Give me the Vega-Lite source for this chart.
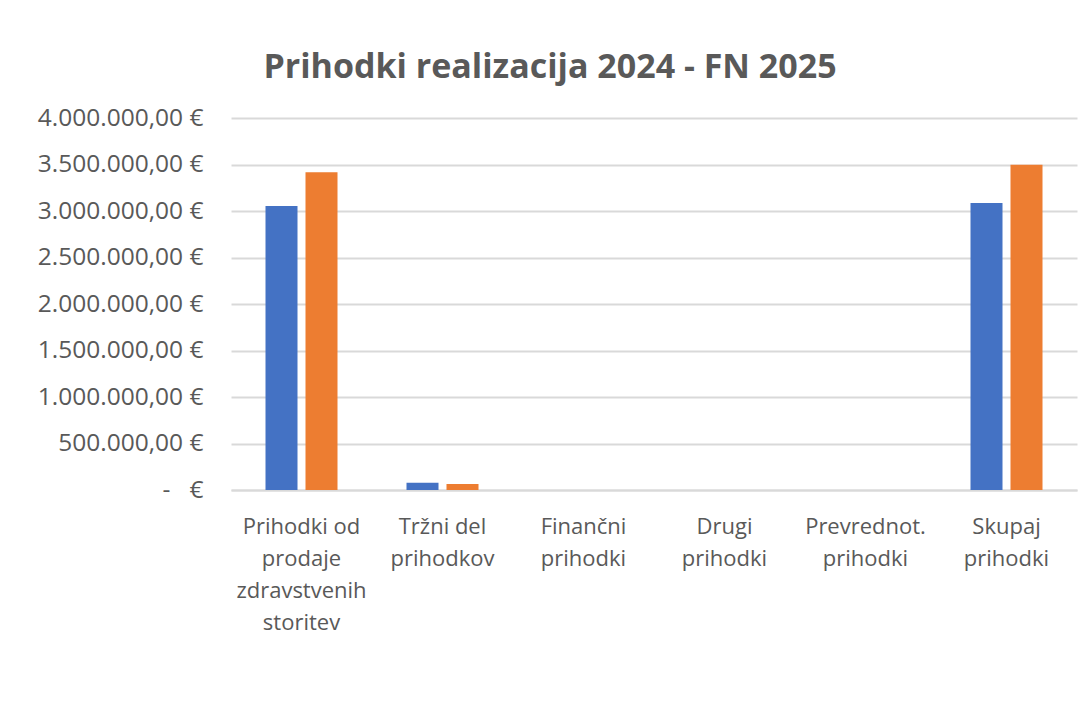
{
  "$schema": "https://vega.github.io/schema/vega-lite/v6.json",
  "autosize": "none",
  "width": 846,
  "height": 372,
  "padding": {"left": 231, "top": 118, "right": 3, "bottom": 214},
  "background": "white",
  "config": {
    "view": {"stroke": null},
    "font": "Open Sans",
    "locale": {"number": {"decimal": ",", "thousands": ".", "grouping": [3], "currency": ["", " €"]}}
  },
  "title": {
    "text": "Prihodki realizacija 2024 - FN 2025",
    "font": "Open Sans",
    "fontWeight": "bold",
    "fontSize": 34,
    "color": "#595959",
    "anchor": "middle",
    "frame": "group",
    "baseline": "alphabetic",
    "offset": 8,
    "dx": -104,
    "dy": 15
  },
  "data": {
    "values": [
      {"kategorija": "Prihodki od prodaje zdravstvenih storitev", "serija": "Realizacija 2024", "znesek": 3055000},
      {"kategorija": "Prihodki od prodaje zdravstvenih storitev", "serija": "FN 2025", "znesek": 3418000},
      {"kategorija": "Tržni del prihodkov", "serija": "Realizacija 2024", "znesek": 78000},
      {"kategorija": "Tržni del prihodkov", "serija": "FN 2025", "znesek": 64000},
      {"kategorija": "Finančni prihodki", "serija": "Realizacija 2024", "znesek": 0},
      {"kategorija": "Finančni prihodki", "serija": "FN 2025", "znesek": 0},
      {"kategorija": "Drugi prihodki", "serija": "Realizacija 2024", "znesek": 0},
      {"kategorija": "Drugi prihodki", "serija": "FN 2025", "znesek": 0},
      {"kategorija": "Prevrednot. prihodki", "serija": "Realizacija 2024", "znesek": 0},
      {"kategorija": "Prevrednot. prihodki", "serija": "FN 2025", "znesek": 0},
      {"kategorija": "Skupaj prihodki", "serija": "Realizacija 2024", "znesek": 3087000},
      {"kategorija": "Skupaj prihodki", "serija": "FN 2025", "znesek": 3497000}
    ]
  },
  "mark": {"type": "bar"},
  "encoding": {
    "x": {
      "field": "kategorija",
      "type": "nominal",
      "sort": null,
      "scale": {"paddingInner": 0, "paddingOuter": 0},
      "axis": {
        "title": null,
        "labelAngle": 0,
        "labelFont": "Open Sans",
        "labelFontSize": 22,
        "labelColor": "#595959",
        "labelLineHeight": 32,
        "labelPadding": 26,
        "ticks": false,
        "domainColor": "#D9D9D9",
        "domainWidth": 2,
        "labelExpr": "datum.value == 'Prihodki od prodaje zdravstvenih storitev' ? ['Prihodki od', 'prodaje', 'zdravstvenih', 'storitev'] : datum.value == 'Tržni del prihodkov' ? ['Tržni del', 'prihodkov'] : split(datum.value, ' ')"
      }
    },
    "xOffset": {
      "field": "serija",
      "type": "nominal",
      "sort": ["Realizacija 2024", "FN 2025"],
      "scale": {"paddingInner": 0.2, "paddingOuter": 0.8625}
    },
    "y": {
      "field": "znesek",
      "type": "quantitative",
      "scale": {"domain": [0, 4000000], "nice": false},
      "axis": {
        "title": null,
        "values": [0, 500000, 1000000, 1500000, 2000000, 2500000, 3000000, 3500000, 4000000],
        "format": ",.2f",
        "labelExpr": "datum.value == 0 ? '-\u00a0\u00a0\u00a0€' : datum.label + ' €'",
        "labelFont": "Open Sans",
        "labelFontSize": 24.5,
        "labelColor": "#595959",
        "labelPadding": 28,
        "ticks": false,
        "domain": false,
        "gridColor": "#D9D9D9",
        "gridWidth": 2
      }
    },
    "color": {
      "field": "serija",
      "type": "nominal",
      "sort": ["Realizacija 2024", "FN 2025"],
      "scale": {"domain": ["Realizacija 2024", "FN 2025"], "range": ["#4472C4", "#ED7D31"]},
      "legend": null
    }
  }
}
